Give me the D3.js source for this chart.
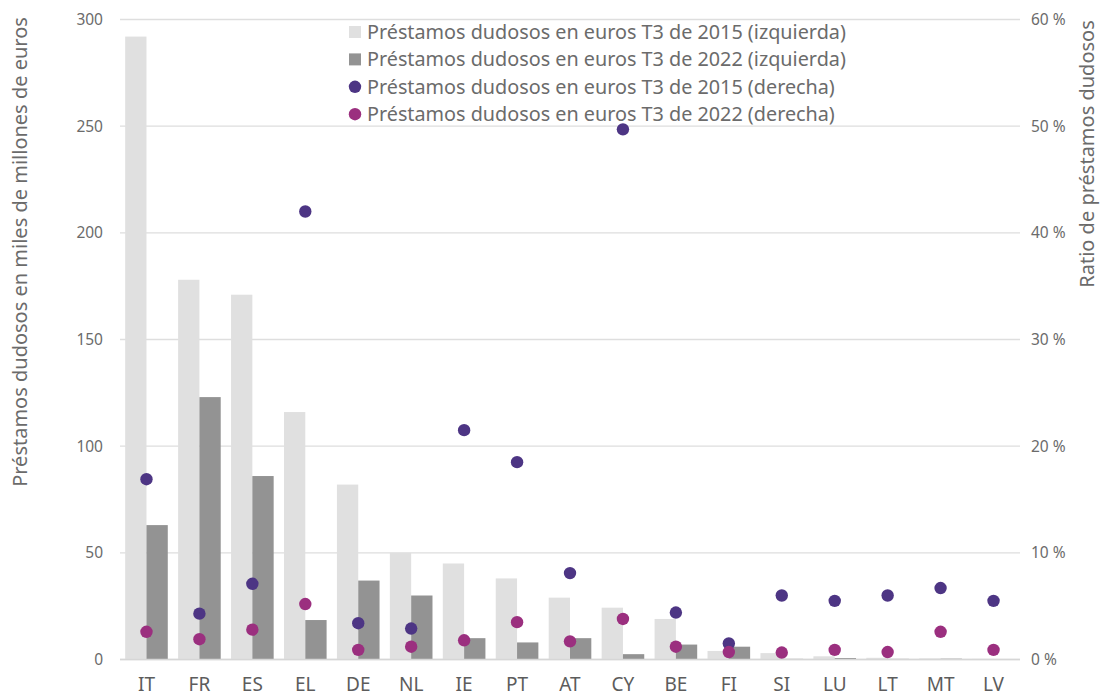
<!DOCTYPE html>
<html>
<head>
<meta charset="utf-8">
<script src="https://cdn.jsdelivr.net/npm/d3@7/dist/d3.min.js"></script>
<style>
  html, body { margin: 0; padding: 0; background: #fff; }
  svg { display: block; font-family: "Noto Sans", "Open Sans", sans-serif; }
</style>
</head>
<body>
<svg id="chart" width="1100" height="697"></svg>
<script>
// Euro area countries
const countries = ["IT", "FR", "ES", "EL", "DE", "NL", "IE", "PT", "AT", "CY", "BE", "FI", "SI", "LU", "LT", "MT", "LV"];

// Non-performing loans, EUR billions (left axis)
const npl2015 = [292, 178, 171, 116, 82, 50, 45, 38, 29, 24.3, 19, 4, 3, 1.5, 0.8, 0.5, 0.3];
const npl2022 = [63, 123, 86, 18.5, 37, 30, 10, 8, 10, 2.5, 7, 6, 0.3, 0.7, 0.3, 0.4, 0.2];

// NPL ratio, percent (right axis)
const ratio2015 = [16.9, 4.3, 7.1, 42.0, 3.4, 2.9, 21.5, 18.5, 8.1, 49.7, 4.4, 1.5, 6.0, 5.5, 6.0, 6.7, 5.5];
const ratio2022 = [2.6, 1.9, 2.8, 5.2, 0.9, 1.2, 1.8, 3.5, 1.7, 3.8, 1.2, 0.7, 0.65, 0.9, 0.7, 2.6, 0.9];

const leftTicks = [0, 50, 100, 150, 200, 250, 300];
const rightTicks = [0, 10, 20, 30, 40, 50, 60];

const seriesNames = [
  "Préstamos dudosos en euros T3 de 2015 (izquierda)",
  "Préstamos dudosos en euros T3 de 2022 (izquierda)",
  "Préstamos dudosos en euros T3 de 2015 (derecha)",
  "Préstamos dudosos en euros T3 de 2022 (derecha)"
];

const colors = {
  light: "#e0e0e0",
  dark: "#939393",
  purple: "#4d3584",
  magenta: "#9b2f7f",
  grid: "#dedede",
  text: "#6b6b6b"
};

const svg = d3.select("#chart");
const plot = { left: 120, right: 1020, top: 19.5, bottom: 659.5 };

const x = d3.scaleBand().domain(countries).range([plot.left, plot.right]).paddingInner(0).paddingOuter(0);
const groupWidth = x.bandwidth() * 0.805;
const xSub = d3.scaleBand().domain(["2015", "2022"]).range([0, groupWidth]);

const yLeft = d3.scaleLinear().domain([0, 300]).range([plot.bottom, plot.top]);
const yRight = d3.scaleLinear().domain([0, 60]).range([plot.bottom, plot.top]);

// Gridlines
svg.append("g")
  .selectAll("line")
  .data(leftTicks)
  .join("line")
  .attr("x1", plot.left).attr("x2", plot.right)
  .attr("y1", d => yLeft(d)).attr("y2", d => yLeft(d))
  .attr("stroke", colors.grid)
  .attr("stroke-width", 1.3);

// Bars
const barData = [];
countries.forEach((c, i) => {
  barData.push({ c, key: "2015", v: npl2015[i], fill: colors.light });
  barData.push({ c, key: "2022", v: npl2022[i], fill: colors.dark });
});
const bandOffset = (x.bandwidth() - groupWidth) / 2;
svg.append("g")
  .selectAll("rect")
  .data(barData)
  .join("rect")
  .attr("x", d => x(d.c) + bandOffset + xSub(d.key))
  .attr("width", xSub.bandwidth())
  .attr("y", d => yLeft(d.v))
  .attr("height", d => yLeft(0) - yLeft(d.v))
  .attr("fill", d => d.fill);

// Baseline
svg.append("line")
  .attr("x1", plot.left).attr("x2", plot.right)
  .attr("y1", yLeft(0)).attr("y2", yLeft(0))
  .attr("stroke", "#d6d6d6").attr("stroke-width", 1.5);

// Ratio dots
const dotData = [];
countries.forEach((c, i) => {
  dotData.push({ c, v: ratio2015[i], fill: colors.purple });
  dotData.push({ c, v: ratio2022[i], fill: colors.magenta });
});
svg.append("g")
  .selectAll("circle")
  .data(dotData)
  .join("circle")
  .attr("cx", d => x(d.c) + x.bandwidth() / 2)
  .attr("cy", d => yRight(d.v))
  .attr("r", 6.2)
  .attr("fill", d => d.fill);

// Left axis
const leftAxis = svg.append("g")
  .attr("transform", `translate(${plot.left - 17},0)`)
  .call(d3.axisLeft(yLeft).tickValues(leftTicks).tickSize(0).tickPadding(0));
leftAxis.select(".domain").remove();
leftAxis.selectAll("text")
  .attr("fill", colors.text)
  .style("font-size", "15.5px")
  .style("font-family", "'Noto Sans', sans-serif");

// Right axis
const rightAxis = svg.append("g")
  .attr("transform", `translate(${plot.right + 11},0)`)
  .call(d3.axisRight(yRight).tickValues(rightTicks).tickSize(0).tickPadding(0).tickFormat(d => d + " %"));
rightAxis.select(".domain").remove();
rightAxis.selectAll("text")
  .attr("fill", colors.text)
  .style("font-size", "15.5px")
  .style("font-family", "'Noto Sans', sans-serif");

// Category axis
const bottomAxis = svg.append("g")
  .attr("transform", `translate(0,${plot.bottom})`)
  .call(d3.axisBottom(x).tickSize(0).tickPadding(0));
bottomAxis.select(".domain").remove();
bottomAxis.selectAll("text")
  .attr("dy", null)
  .attr("y", 31)
  .attr("fill", "#5c5c5c")
  .style("font-size", "19px")
  .style("font-family", "'Noto Sans', sans-serif");

// Axis titles
svg.append("text")
  .attr("transform", `translate(27,252) rotate(-90)`)
  .attr("text-anchor", "middle")
  .attr("fill", colors.text)
  .style("font-size", "20px")
  .text("Préstamos dudosos en miles de millones de euros");

svg.append("text")
  .attr("transform", `translate(1094,154) rotate(-90)`)
  .attr("text-anchor", "middle")
  .attr("fill", colors.text)
  .style("font-size", "20px")
  .text("Ratio de préstamos dudosos");

// Legend
const legendTypes = ["square", "square", "circle", "circle"];
const legendColors = [colors.light, colors.dark, colors.purple, colors.magenta];
const legend = svg.append("g");
const rows = legend.selectAll("g")
  .data(seriesNames)
  .join("g")
  .attr("transform", (d, i) => `translate(355,${32 + i * 27.4})`);
rows.each(function (d, i) {
  const g = d3.select(this);
  if (legendTypes[i] === "square") {
    g.append("rect").attr("x", -6).attr("y", -6).attr("width", 12).attr("height", 12).attr("fill", legendColors[i]);
  } else {
    g.append("circle").attr("r", 6.2).attr("fill", legendColors[i]);
  }
});
rows.append("text")
  .attr("x", 12)
  .attr("dy", "0.35em")
  .attr("fill", colors.text)
  .style("font-size", "19.8px")
  .text(d => d);
</script>
</body>
</html>
